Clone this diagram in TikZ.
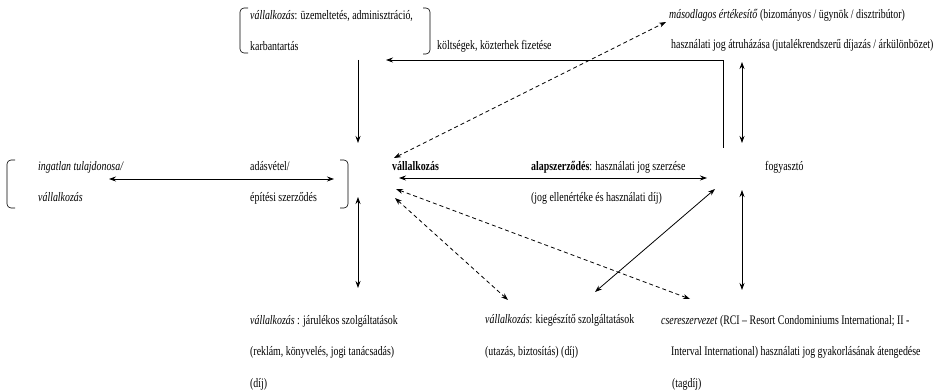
\documentclass[tikz,border=0pt]{standalone}
\usepackage{fontspec}
\setmainfont{Liberation Serif}[FakeStretch=0.76]
\usetikzlibrary{arrows.meta}

\begin{document}
\begin{tikzpicture}[
    x=1pt, y=-1pt,
    >={Stealth[length=7pt, width=5pt]},
    txt/.style={anchor=base west, inner sep=0pt, align=left, font=\fontsize{13}{31.5}\selectfont},
    arrow/.style={->, line width=0.8pt},
    twoway/.style={<->, line width=0.8pt},
    dashway/.style={twoway, dash pattern=on 4pt off 3pt},
    paren/.style={line width=0.6pt, rounded corners=4pt},
]
\useasboundingbox (0,0) rectangle (934,390);

% the two parties (multi-line blocks sit on their last baseline)
\node[txt, font=\fontsize{13}{31.5}\selectfont\bfseries] (vall) at (392,171) {vállalkozás};
\node[txt] (fogy) at (765,171) {fogyasztó};

% text blocks
\node[txt] (upkeep) at (250,51) {\textit{vállalkozás}: üzemeltetés, adminisztráció,\\karbantartás};
\node[txt] (costs) at (437,50) {költségek, közterhek fizetése};
\node[txt] (resale) at (669,19) {\textit{másodlagos értékesítő} (bizományos / ügynök / disztribútor)};
\node[txt] (transfer) at (671,49) {használati jog átruházása (jutalékrendszerű díjazás / árkülönbözet)};
\node[txt] (owner) at (38,202) {\textit{ingatlan tulajdonosa/}\\\textit{vállalkozás}};
\node[txt] (sale) at (250,202) {adásvétel/\\építési szerződés};
\node[txt] (basic) at (531,202) {\textbf{alapszerződés}: használati jog szerzése\\(jog ellenértéke és használati díj)};
\node[txt] (ancill) at (250,387) {\textit{vállalkozás} : járulékos szolgáltatások\\(reklám, könyvelés, jogi tanácsadás)\\(díj)};
\node[txt] (extra) at (485,355) {\textit{vállalkozás}: kiegészítő szolgáltatások\\(utazás, biztosítás) (díj)};
\node[txt] (exch) at (661,387) {\textit{csereszervezet} (RCI -- Resort Condominiums International; II -\\\hspace*{10pt}Interval International) használati jog gyakorlásának átengedése\\\hspace*{11pt}(tagdíj)};

% brackets
\draw[paren] (248,8) -- (240,8) -- (240,53) -- (248,53);
\draw[paren] (423,8) -- (430,8) -- (430,54) -- (423,54);
\draw[paren] (15,160) -- (7,160) -- (7,208) -- (15,208);
\draw[paren] (340,160) -- (348,160) -- (348,208) -- (340,208);

% arrow ends
\coordinate (feeFoot) at (723,148);
\coordinate (feeBend) at (723,60);
\coordinate (feeTip) at (386,60);
\coordinate (costTop) at (358,60);
\coordinate (costTip) at (358,143);
\coordinate (trTop) at (742,62);
\coordinate (trBot) at (742,143);
\coordinate (vallNE) at (394,158);
\coordinate (resaleTip) at (666,22);
\coordinate (vallE) at (399,178);
\coordinate (fogyW) at (707,178);
\coordinate (ownerE) at (109,179);
\coordinate (saleE) at (334,179);
\coordinate (ancTop) at (358,197);
\coordinate (ancBot) at (358,288);
\coordinate (vallSE) at (396,189);
\coordinate (exchTip) at (690,299);
\coordinate (vallS) at (395,198);
\coordinate (extraTip) at (508,300);
\coordinate (fogySW) at (715,189);
\coordinate (exchUse) at (595,292);
\coordinate (fogyS) at (742,190);
\coordinate (exchTop) at (742,290);

\draw[arrow] (feeFoot) -- (feeBend) -- (feeTip);
\draw[arrow] (costTop) -- (costTip);
\draw[twoway] (trTop) -- (trBot);
\draw[dashway] (vallNE) -- (resaleTip);
\draw[twoway] (vallE) -- (fogyW);
\draw[twoway] (ownerE) -- (saleE);
\draw[twoway] (ancTop) -- (ancBot);
\draw[dashway] (vallSE) -- (exchTip);
\draw[dashway] (vallS) -- (extraTip);
\draw[twoway] (exchUse) -- (fogySW);
\draw[twoway] (fogyS) -- (exchTop);
\end{tikzpicture}
\end{document}
